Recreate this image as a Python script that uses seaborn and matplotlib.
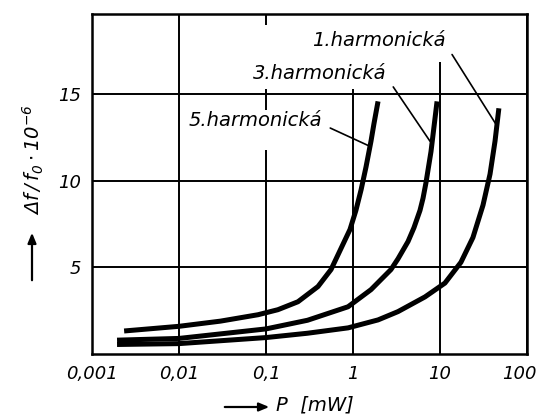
import matplotlib
matplotlib.use("Agg")
import matplotlib.pyplot as plt
import matplotlib.patches as mpatches
import matplotlib.transforms as mtransforms
import pandas as pd
import seaborn as sns

# Relative frequency shift (x 1e-6) versus drive power P [mW] for three harmonics
p_h1 = [0.00194, 0.01, 0.1, 0.3, 0.877, 1.94, 3.29, 6.72, 11.4, 17.4, 23.9, 31.2,
        37.6, 42.9, 47.5]
d_h1 = [0.55, 0.6, 0.95, 1.2, 1.51, 1.97, 2.45, 3.3, 4.1, 5.3, 6.73, 8.6,
        10.4, 12.3, 14.2]

p_h3 = [0.00194, 0.01, 0.1, 0.3, 0.877, 1.61, 2.73, 3.29, 4.29, 5.02, 5.89, 6.38,
        6.9, 7.88, 9.25]
d_h3 = [0.8, 0.9, 1.45, 1.95, 2.73, 3.72, 4.88, 5.5, 6.5, 7.3, 8.3, 9.0,
        9.9, 11.7, 14.6]

p_h5 = [0.00234, 0.01, 0.03, 0.081, 0.137, 0.233, 0.396, 0.559, 0.728, 0.924,
        1.08, 1.24, 1.41, 1.61, 1.74, 1.94]
d_h5 = [1.33, 1.6, 1.9, 2.27, 2.56, 3.02, 3.9, 4.88, 6.1, 7.2,
        8.3, 9.5, 10.8, 12.3, 13.3, 14.6]

series_names = ["1.harmonická", "3.harmonická", "5.harmonická"]
x_ticks = [0.001, 0.01, 0.1, 1, 10, 100]
x_tick_labels = ["0,001", "0,01", "0,1", "1", "10", "100"]
y_ticks = [5, 10, 15]
y_tick_labels = ["5", "10", "15"]

frames = []
for name, p, d in zip(series_names, [p_h1, p_h3, p_h5], [d_h1, d_h3, d_h5]):
    frames.append(pd.DataFrame({"P": p, "df": d, "harm": name}))
data = pd.concat(frames, ignore_index=True)

sns.set_theme(style="white")
plt.rcParams["font.family"] = ["DejaVu Sans"]
plt.rcParams["font.style"] = "italic"
plt.rcParams["text.color"] = "black"
plt.rcParams["mathtext.fontset"] = "dejavusans"

fig = plt.figure(figsize=(5.37, 4.16), dpi=100)
ax = fig.add_axes([92 / 537, 62 / 416, 435 / 537, 340 / 416])

sns.lineplot(data=data, x="P", y="df", hue="harm", units="harm",
             estimator=None, sort=False, legend=False,
             palette={n: "black" for n in series_names},
             linewidth=3.6, ax=ax, zorder=3)
for line in ax.lines:
    line.set_solid_capstyle("butt")
    line.set_solid_joinstyle("round")

ax.set_xscale("log")
ax.set_xlim(0.001, 100)
ax.set_ylim(0, 19.65)
ax.set_xticks(x_ticks)
ax.set_xticklabels(x_tick_labels)
ax.set_yticks(y_ticks)
ax.set_yticklabels(y_tick_labels)
ax.minorticks_off()
ax.tick_params(axis="both", direction="out", length=5, width=1.4,
               color="black", labelsize=13, labelcolor="black", pad=3)
for lbl in ax.get_xticklabels() + ax.get_yticklabels():
    lbl.set_fontstyle("italic")
# keep the last decade label inside the figure
last = ax.get_xticklabels()[-1]
last.set_transform(last.get_transform()
                   + mtransforms.ScaledTranslation(-8 / 100, 0, fig.dpi_scale_trans))

ax.grid(True, color="black", linewidth=1.4)
ax.set_axisbelow(True)
for s in ax.spines.values():
    s.set_visible(True)
    s.set_color("black")
    s.set_linewidth(1.8)
ax.set_xlabel("")
ax.set_ylabel("")

# clear the grid behind the curve labels
for x0, y0, w, h in [(0.478, 0.859, 0.372, 0.141),
                     (0.340, 0.779, 0.379, 0.188),
                     (0.209, 0.600, 0.349, 0.118)]:
    ax.add_patch(mpatches.Rectangle((x0, y0), w, h, transform=ax.transAxes,
                                    facecolor="white", edgecolor="none", zorder=1))

# Curve labels with leader lines
label_pos = [(1.99, 18.1), (0.418, 16.2), (0.075, 13.5)]
leader_end = [(45.0, 13.2), (7.67, 12.3), (1.57, 12.0)]
for name, (tx, ty), (lx, ly) in zip(series_names, label_pos, leader_end):
    ax.annotate(name, xy=(lx, ly), xytext=(tx, ty), textcoords="data",
                ha="center", va="center", fontsize=14, fontstyle="italic",
                color="black",
                arrowprops=dict(arrowstyle="-", color="black", lw=1.2,
                                relpos=(1.0, 0.3), shrinkA=4, shrinkB=0),
                zorder=4)

# Axis titles with direction arrows
fig.text(33 / 537, 1 - 160 / 416, r"$\Delta f\,/\,f_0\cdot 10^{-6}$",
         rotation=90, ha="center", va="center", fontsize=14, color="black")
fig.add_artist(mpatches.FancyArrowPatch(
    (32 / 537, 1 - 283 / 416), (32 / 537, 1 - 230 / 416),
    transform=fig.transFigure, arrowstyle="-|>,head_length=6,head_width=2.5",
    color="black", lw=1.6))
fig.add_artist(mpatches.FancyArrowPatch(
    (222 / 537, 1 - 407 / 416), (272 / 537, 1 - 407 / 416),
    transform=fig.transFigure, arrowstyle="-|>,head_length=6,head_width=2.5",
    color="black", lw=1.6))
fig.text(276 / 537, 1 - 405 / 416, "P  [mW]", ha="left", va="center",
         fontsize=14, fontstyle="italic", color="black")

fig.savefig("out.png", dpi=100)
